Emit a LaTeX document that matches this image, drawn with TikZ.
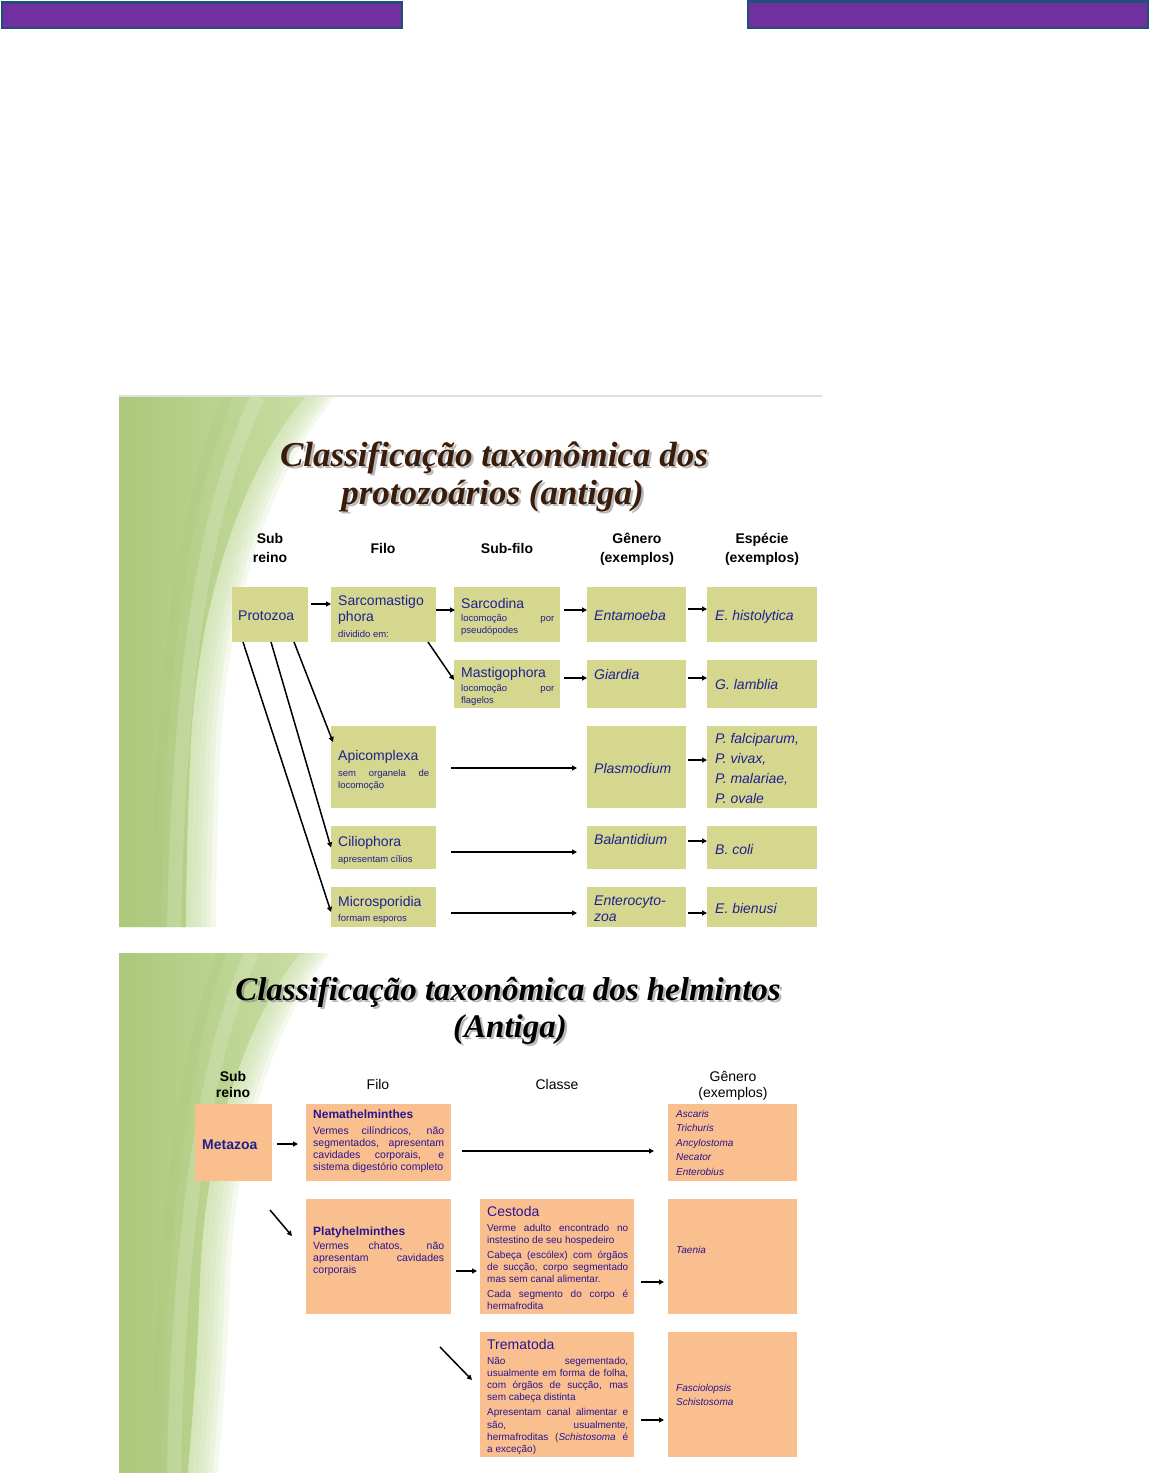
\documentclass[tikz,border=0pt]{standalone}
\usepackage{fontspec}
\setmainfont{Liberation Sans}
\newfontfamily\ttlfont{Liberation Serif}
\usetikzlibrary{arrows.meta,fit}
\definecolor{barpurple}{HTML}{7030A0}
\definecolor{barblue}{HTML}{1F4E79}
\definecolor{khaki}{HTML}{D6D78F}
\definecolor{peach}{HTML}{F9BF8F}
\definecolor{tblue}{HTML}{20208E}
\definecolor{tpurp}{HTML}{2C1490}
\definecolor{tbrown}{HTML}{3A1C0A}
\definecolor{gdark}{HTML}{ABC87B}
\definecolor{gmid}{HTML}{C8DDA3}
\definecolor{glight}{HTML}{E6F0D6}
\newcommand\myfs[2]{\fontsize{#1}{#2}\selectfont}
\newcommand\jline[1]{\makebox[\linewidth][s]{#1}}
\begin{document}
\begin{tikzpicture}[x=1pt,y=-1pt,
  kbox/.style={fill=khaki,draw=none,inner sep=0pt,outer sep=0pt},
  pbox/.style={fill=peach,draw=none,inner sep=0pt,outer sep=0pt},
  arr/.style={-{Triangle[length=5pt,width=5pt]},line width=1.5pt,black},
  hA/.style={font=\myfs{14}{19}\bfseries,inner sep=0pt,anchor=base},
  hB/.style={font=\myfs{14}{16}\bfseries,inner sep=0pt,anchor=base},
  hC/.style={font=\myfs{14}{16},inner sep=0pt,anchor=base},
  nA/.style={font=\myfs{14}{16},text=tblue,inner sep=0pt,anchor=base west},
  iA/.style={font=\myfs{14}{20}\itshape,text=tblue,inner sep=0pt,anchor=base west},
  dA/.style={font=\myfs{9.5}{12},text=tblue,inner sep=0pt,anchor=base west},
  nMeta/.style={font=\myfs{14}{16}\bfseries,text=tblue,inner sep=0pt,anchor=base west},
  nB/.style={font=\myfs{12}{14}\bfseries,text=tpurp,inner sep=0pt,anchor=base west},
  nC/.style={font=\myfs{14}{16},text=tpurp,inner sep=0pt,anchor=base west},
  dB/.style={font=\myfs{10.5}{12},text=tpurp,inner sep=0pt,anchor=base west},
  dC/.style={font=\myfs{10}{12.3},text=tpurp,inner sep=0pt,anchor=base west},
  gB/.style={font=\myfs{10}{14.5}\itshape,text=tpurp,inner sep=0pt,anchor=base west},
  ttl/.style={font=\ttlfont\myfs{35}{40}\bfseries\itshape,inner sep=0pt,anchor=base},
  ttlb/.style={font=\ttlfont\myfs{33}{38}\bfseries\itshape,inner sep=0pt,anchor=base},
  shadowtxt/.style={text=black!55,opacity=0.5},
  softedge/.style={fill=gmid,opacity=0.2}
]
\useasboundingbox (0,0) rectangle (1150,1473);

% header bars
\draw[fill=barpurple,draw=barblue,line width=2.5pt] (2,2.5) rectangle (402,28);
\draw[fill=barpurple,draw=barblue,line width=2.5pt] (748,1.5) rectangle (1148,28);

% slide 1 background
\draw[black!12,line width=2pt] (119,396) -- (822,396);
\begin{scope}
  \clip (119,397) rectangle (822,927);
  \foreach \d in {5,10,15,20,25,30}{
    \fill[softedge,xshift=\d pt] (0,397) -- (305,397) .. controls (235,480) and (195,620) .. (190,760) .. controls (187,840) and (186,890) .. (186,927) -- (0,927) -- cycle;
  }
  \shade[left color=gdark,right color=gmid] (119,397) -- (305,397) .. controls (235,480) and (195,620) .. (190,760) .. controls (187,840) and (186,890) .. (186,927) -- (119,927) -- cycle;
  \draw[white,opacity=0.16,line width=14pt] (258,397) .. controls (208,500) and (180,650) .. (174,927);
  \draw[gdark,opacity=0.25,line width=10pt] (228,397) .. controls (185,500) and (160,650) .. (156,927);
\end{scope}

% slide 2 background
\begin{scope}
  \clip (119,953) rectangle (822,1473);
  \foreach \d in {5,10,15,20,25,30}{
    \fill[softedge,xshift=\d pt] (0,953) -- (300,953) .. controls (240,1030) and (205,1150) .. (200,1280) .. controls (197,1380) and (190,1440) .. (188,1473) -- (0,1473) -- cycle;
  }
  \shade[left color=gdark,right color=gmid] (119,953) -- (300,953) .. controls (240,1030) and (205,1150) .. (200,1280) .. controls (197,1380) and (190,1440) .. (188,1473) -- (119,1473) -- cycle;
  \draw[white,opacity=0.16,line width=14pt] (252,953) .. controls (202,1060) and (178,1250) .. (174,1473);
  \draw[gdark,opacity=0.25,line width=10pt] (222,953) .. controls (180,1060) and (160,1250) .. (156,1473);
\end{scope}

% ---------- slide 1 titles ----------
\node[ttl,shadowtxt] (t1s) at (496.5,468.5) {Classificação taxonômica dos};
\node[ttl,text=tbrown] (t1) at (494,466) {Classificação taxonômica dos};
\node[ttl,shadowtxt] (t2s) at (495,506.5) {protozoários (antiga)};
\node[ttl,text=tbrown] (t2) at (492.5,504) {protozoários (antiga)};

\node[hA] (h1) at (270,543) {\parbox[t]{80pt}{\centering Sub\\reino}};
\node[hA] (h2) at (383,553) {Filo};
\node[hA] (h3) at (507,553) {Sub-filo};
\node[hA] (h4) at (637,543) {\parbox[t]{90pt}{\centering Gênero\\(exemplos)}};
\node[hA] (h5) at (762,543) {\parbox[t]{90pt}{\centering Espécie\\(exemplos)}};

% slide 1 boxes
\node[kbox,fit={(232,587)(308,642)}] (proto) {};
\node[kbox,fit={(331,587)(436,642)}] (sarco) {};
\node[kbox,fit={(454,587)(560,642)}] (sarcod) {};
\node[kbox,fit={(587,587)(686,642)}] (entam) {};
\node[kbox,fit={(707,587)(817,642)}] (ehist) {};
\node[kbox,fit={(454,660)(560,708)}] (mastig) {};
\node[kbox,fit={(587,660)(686,708)}] (giard) {};
\node[kbox,fit={(707,660)(817,708)}] (glamb) {};
\node[kbox,fit={(331,726)(436,808)}] (apic) {};
\node[kbox,fit={(587,726)(686,808)}] (plasm) {};
\node[kbox,fit={(707,726)(817,808)}] (pfalc) {};
\node[kbox,fit={(331,826)(436,869)}] (cilio) {};
\node[kbox,fit={(587,826)(686,869)}] (balan) {};
\node[kbox,fit={(707,826)(817,869)}] (bcoli) {};
\node[kbox,fit={(331,887)(436,927)}] (micro) {};
\node[kbox,fit={(587,887)(686,927)}] (enter) {};
\node[kbox,fit={(707,887)(817,927)}] (ebien) {};

% slide 1 arrows
\draw[arr] ([xshift=3pt,yshift=10.5pt]proto.east) -- ([yshift=10.5pt]sarco.west);
\draw[arr] ([yshift=4.5pt]sarco.east) -- ([xshift=1pt,yshift=4.5pt]sarcod.west);
\draw[arr] ([xshift=4pt,yshift=4.5pt]sarcod.east) -- ([yshift=4.5pt]entam.west);
\draw[arr] ([xshift=2pt,yshift=5.5pt]entam.east) -- ([yshift=5.5pt]ehist.west);
\draw[arr] ([xshift=-8pt]sarco.south east) -- ([yshift=4pt]mastig.west);
\draw[arr] ([xshift=4pt,yshift=6pt]mastig.east) -- ([yshift=6pt]giard.west);
\draw[arr] ([xshift=2pt,yshift=6pt]giard.east) -- ([yshift=6pt]glamb.west);
\draw[arr] ([xshift=11pt]proto.south west) -- ([yshift=-5pt]micro.west);
\draw[arr] ([xshift=39pt]proto.south west) -- (cilio.west);
\draw[arr] ([xshift=-14pt]proto.south east) -- ([xshift=2pt,yshift=25pt]apic.west);
\draw[arr] ([xshift=15pt,yshift=-1pt]apic.east) -- ([xshift=-10pt,yshift=-1pt]plasm.west);
\draw[arr] ([xshift=15pt,yshift=-4.5pt]cilio.east) -- ([xshift=-10pt,yshift=-4.5pt]balan.west);
\draw[arr] ([xshift=15pt,yshift=-6pt]micro.east) -- ([xshift=-10pt,yshift=-6pt]enter.west);
\draw[arr] ([xshift=2pt,yshift=7pt]plasm.east) -- ([yshift=7pt]pfalc.west);
\draw[arr] ([xshift=2pt,yshift=6.5pt]balan.east) -- ([yshift=6.5pt]bcoli.west);
\draw[arr] ([xshift=2pt,yshift=-6pt]enter.east) -- ([yshift=-6pt]ebien.west);

% slide 1 texts
\node[nA] (proto-t) at (238,620) {Protozoa};
\node[nA] (sarco-t) at (338,605) {\parbox[t]{100pt}{Sarcomastigo\\phora}};
\node[dA] (sarco-d) at (338,637) {dividido em:};
\node[nA] (sarcod-t) at (461,608) {Sarcodina};
\node[dA] (sarcod-d) at (461,621) {\parbox[t]{93pt}{\jline{locomoção por}\\pseudópodes}};
\node[iA] (entam-t) at (594,620) {Entamoeba};
\node[iA] (ehist-t) at (715,620) {E. histolytica};
\node[nA] (mastig-t) at (461,677) {Mastigophora};
\node[dA] (mastig-d) at (461,691) {\parbox[t]{93pt}{\jline{locomoção por}\\flagelos}};
\node[iA] (giard-t) at (594,679) {Giardia};
\node[iA] (glamb-t) at (715,689) {G. lamblia};
\node[nA] (apic-t) at (338,760) {Apicomplexa};
\node[dA] (apic-d) at (338,776) {\parbox[t]{91pt}{\jline{sem organela de}\\locomoção}};
\node[iA] (plasm-t) at (594,773) {Plasmodium};
\node[iA] (pfalc-t) at (715,743) {\parbox[t]{100pt}{P. falciparum,\\P. vivax,\\P. malariae,\\P. ovale}};
\node[nA] (cilio-t) at (338,846) {Ciliophora};
\node[dA] (cilio-d) at (338,862) {apresentam cílios};
\node[iA] (balan-t) at (594,844) {Balantidium};
\node[iA] (bcoli-t) at (715,854) {B. coli};
\node[nA] (micro-t) at (338,906) {Microsporidia};
\node[dA] (micro-d) at (338,921) {formam esporos};
\node[iA] (enter-t) at (594,905) {\parbox[t]{90pt}{\myfs{14}{16}Enterocyto-\\zoa}};
\node[iA] (ebien-t) at (715,913) {E. bienusi};

% ---------- slide 2 ----------
\node[ttlb,shadowtxt] (t3s) at (510.5,1002.5) {Classificação taxonômica dos helmintos};
\node[ttlb,text=black] (t3) at (508,1000) {Classificação taxonômica dos helmintos};
\node[ttlb,shadowtxt] (t4s) at (512.5,1039.5) {(Antiga)};
\node[ttlb,text=black] (t4) at (510,1037) {(Antiga)};

\node[hB] (h6) at (233,1081) {\parbox[t]{60pt}{\centering Sub\\reino}};
\node[hC] (h7) at (378,1089) {Filo};
\node[hC] (h8) at (557,1089) {Classe};
\node[hC] (h9) at (733,1081) {\parbox[t]{90pt}{\centering Gênero\\(exemplos)}};

\node[pbox,fit={(195,1104)(272,1181)}] (meta) {};
\node[pbox,fit={(306,1104)(451,1181)}] (nema) {};
\node[pbox,fit={(668,1104)(797,1181)}] (gen1) {};
\node[pbox,fit={(306,1199)(451,1314)}] (platy) {};
\node[pbox,fit={(480,1199)(634,1314)}] (cest) {};
\node[pbox,fit={(668,1199)(797,1314)}] (taen) {};
\node[pbox,fit={(480,1332)(634,1457)}] (trem) {};
\node[pbox,fit={(668,1332)(797,1457)}] (fasc) {};

\coordinate (d1a) at (270,1210);
\coordinate (d1b) at (292,1236);
\coordinate (d2a) at (440,1347);
\coordinate (d2b) at (472,1380);
\draw[arr] ([xshift=5pt,yshift=-1.5pt]meta.east) -- ([xshift=-8pt,yshift=-1.5pt]nema.west);
\draw[arr] ([xshift=11pt,yshift=-8.5pt]nema.east) -- ([xshift=-14pt,yshift=-8.5pt]gen1.west);
\draw[arr] (d1a) -- (d1b);
\draw[arr] ([xshift=5pt,yshift=-14.5pt]platy.east) -- ([xshift=-3pt,yshift=-14.5pt]cest.west);
\draw[arr] ([xshift=7pt,yshift=-25.5pt]cest.east) -- ([xshift=-4pt,yshift=-25.5pt]taen.west);
\draw[arr] (d2a) -- (d2b);
\draw[arr] ([xshift=7pt,yshift=-25.5pt]trem.east) -- ([xshift=-4pt,yshift=-25.5pt]fasc.west);

\node[nMeta] (meta-t) at (202,1149) {Metazoa};
\node[nB] (nema-t) at (313,1118) {Nemathelminthes};
\node[dB] (nema-d) at (313,1134) {\parbox[t]{131pt}{\jline{Vermes cilíndricos, não}\\\jline{segmentados, apresentam}\\\jline{cavidades corporais, e}\\sistema digestório completo}};
\node[gB] (gen1-t) at (676,1117) {\parbox[t]{100pt}{Ascaris\\Trichuris\\Ancylostoma\\Necator\\Enterobius}};
\node[nB] (platy-t) at (313,1235) {Platyhelminthes};
\node[dB] (platy-d) at (313,1249) {\parbox[t]{131pt}{\jline{Vermes chatos, não}\\\jline{apresentam cavidades}\\corporais}};
\node[nC] (cest-t) at (487,1216) {Cestoda};
\node[dC] (cest-d) at (487,1231) {\parbox[t]{141pt}{\jline{Verme adulto encontrado no}\\instestino de seu hospedeiro\\[2.5pt]\jline{Cabeça (escólex) com órgãos}\\\jline{de sucção, corpo segmentado}\\mas sem canal alimentar.\\[2pt]\jline{Cada segmento do corpo é}\\hermafrodita}};
\node[gB] (taen-t) at (676,1253) {Taenia};
\node[nC] (trem-t) at (487,1349) {Trematoda};
\node[dC] (trem-d) at (487,1364) {\parbox[t]{141pt}{\jline{Não segementado,}\\\jline{usualmente em forma de folha,}\\\jline{com órgãos de sucção, mas}\\sem cabeça distinta\\[2.5pt]\jline{Apresentam canal alimentar e}\\\jline{são, usualmente,}\\\jline{hermafroditas (\textit{Schistosoma} é}\\a exceção)}};
\node[gB] (fasc-t) at (676,1391) {\parbox[t]{100pt}{Fasciolopsis\\Schistosoma}};
\end{tikzpicture}
\end{document}
